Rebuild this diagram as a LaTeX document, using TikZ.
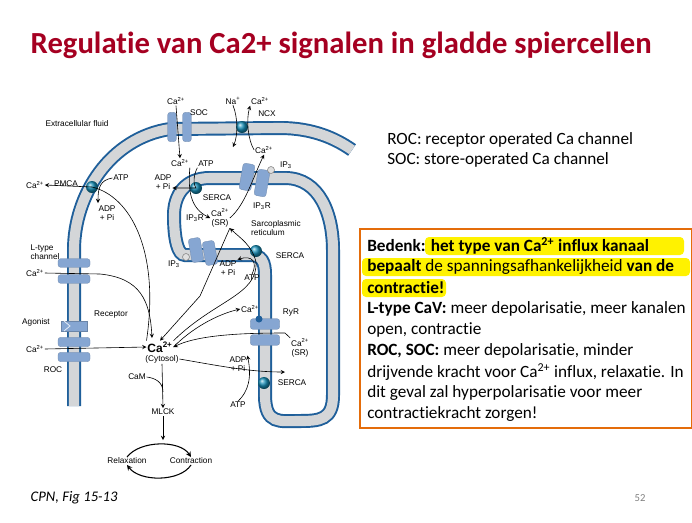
\documentclass[tikz,border=0pt]{standalone}
\usepackage{fontspec}
\setmainfont{Carlito}[Ligatures={NoCommon}]
\newfontfamily\labfont{Liberation Sans}
\usetikzlibrary{arrows, positioning, shadings}
\definecolor{titlered}{HTML}{A50021}
\definecolor{mblue}{HTML}{1F5F9A}
\definecolor{mgray}{HTML}{D4D6D8}
\definecolor{chan}{HTML}{86A6D2}
\definecolor{boxorange}{HTML}{E46C0A}
\newcommand{\caion}{Ca\textsuperscript{2+}}

\begin{document}
\begin{tikzpicture}[x=0.75pt, y=-0.75pt, >=stealth, font=\labfont\fontsize{6.2}{7}\selectfont]
        \tikzset{
            memb/.style={line width=10.5pt, draw=mblue},
            lumen/.style={line width=7.6pt, draw=mgray},
            pump/.style={circle, minimum size=9pt, inner sep=0pt, shading=ball, ball color=mblue!70!cyan},
            chan/.style={rectangle, rounded corners=2pt, fill=chan, draw=chan!80!black, line width=0.2pt, inner sep=0pt},
            lbl/.style={align=center, inner sep=0.5pt},
            flow/.style={->, line width=0.45pt},
            txt/.style={anchor=west, inner sep=0pt, font=\fontsize{12.9}{14}\selectfont}
        }
        \useasboundingbox (0,0) rectangle (692,522);

        % title
        \node[font=\bfseries\fontsize{23}{26}\selectfont, text=titlered, anchor=west] (title) at (26,45) {Regulatie van Ca2+ signalen in gladde spiercellen};

        % membranes
        \draw[memb] (74,406) -- (74,250) .. controls (74,195) and (110,138) .. (170,129) -- (280,128) .. controls (312,128) and (335,138) .. (352,150);
        \draw[lumen] (74,406) -- (74,250) .. controls (74,195) and (110,138) .. (170,129) -- (280,128) .. controls (312,128) and (335,138) .. (352,150);
        \draw[memb] (185,255) -- (250,255) .. controls (262,255) and (265,262) .. (265,275) -- (265,395) .. controls (265,425) and (280,421) .. (299,421) .. controls (320,421) and (333,420) .. (333,395) -- (333,250) .. controls (333,215) and (320,178) .. (285,178) -- (210,178) .. controls (185,178) and (174,195) .. (174,215) .. controls (174,240) and (178,255) .. (185,255) -- cycle;
        \draw[lumen] (185,255) -- (250,255) .. controls (262,255) and (265,262) .. (265,275) -- (265,395) .. controls (265,425) and (280,421) .. (299,421) .. controls (320,421) and (333,420) .. (333,395) -- (333,250) .. controls (333,215) and (320,178) .. (285,178) -- (210,178) .. controls (185,178) and (174,195) .. (174,215) .. controls (174,240) and (178,255) .. (185,255) -- cycle;

        % channels
        \node[chan, minimum width=6.5pt, minimum height=22pt] (soca) at (172,127) {};
        \node[chan, minimum width=6.5pt, minimum height=22pt] (socb) at (187,127) {};
        \node[chan, minimum width=24pt, minimum height=6.5pt] (ltypea) at (74,263) {};
        \node[chan, minimum width=24pt, minimum height=6.5pt] (ltypeb) at (74,279) {};
        \node[chan, minimum width=20pt, minimum height=8pt, rounded corners=0pt] (receptor) at (74,326) {};
        \draw[white!80!chan, line width=0.6pt] (64,321) -- (70,326) -- (64,331);
        \node[chan, minimum width=24pt, minimum height=7pt] (roca) at (74,342) {};
        \node[chan, minimum width=24pt, minimum height=7pt] (rocb) at (74,357) {};
        \node[chan, minimum width=9pt, minimum height=20pt, rotate=-10] (ipra) at (247,177) {};
        \node[chan, minimum width=9pt, minimum height=20pt, rotate=-10] (iprb) at (262,183) {};
        \node[chan, minimum width=9pt, minimum height=18pt, rotate=10] (iprc) at (196,250) {};
        \node[chan, minimum width=9pt, minimum height=18pt, rotate=10] (iprd) at (210,253) {};
        \node[chan, minimum width=22pt, minimum height=8pt] (ryra) at (265,324) {};
        \node[chan, minimum width=22pt, minimum height=8pt] (ryrb) at (265,340) {};
        \fill[mblue] (259,319) circle (3.5);
        \filldraw[fill=gray!25, draw=gray] (271,170) circle (3.5);
        \filldraw[fill=gray!25, draw=gray] (186,257) circle (3.5);

        % pumps
        \node[pump] (pmca) at (92,187) {};
        \node[pump] (ncx) at (242,127) {};
        \node[pump] (sercaA) at (196,188) {};
        \node[pump] (sercaB) at (256,251) {};
        \node[pump] (sercaC) at (264,383) {};

        % labels
        \node[lbl] (ecf) at (77,124) {Extracellular fluid};
        \node[lbl] (casoc) at (176,101) {\caion};
        \node[lbl] (soc) at (199,113) {SOC};
        \node[lbl] (na) at (233,101) {Na\textsuperscript{+}};
        \node[lbl] (cancx) at (260,101) {\caion};
        \node[lbl] (ncxl) at (267,114) {NCX};
        \node[lbl] (cain) at (264,150) {\caion};
        \node[lbl] (caer) at (180,163) {\caion};
        \node[lbl] (atpa) at (206,164) {ATP};
        \node[lbl] (adpa) at (163,182) {ADP\\+ Pi};
        \node[lbl] (sercal) at (217,198) {SERCA};
        \node[lbl] (ipa) at (286,165) {IP\textsubscript{3}};
        \node[lbl] (iprl) at (262,206) {IP\textsubscript{3}R};
        \node[lbl] (casr) at (220,218) {\caion\\(SR)};
        \node[lbl] (iprlb) at (195,218) {IP\textsubscript{3}R};
        \node[lbl, align=left] (srl) at (276,228) {Sarcoplasmic\\reticulum};
        \node[lbl] (ipb) at (174,264) {IP\textsubscript{3}};
        \node[lbl] (sercalb) at (290,256) {SERCA};
        \node[lbl] (adpb) at (228,268) {ADP\\+ Pi};
        \node[lbl] (atpb) at (252,278) {ATP};
        \node[lbl] (pmcal) at (66,184) {PMCA};
        \node[lbl] (capm) at (35,185) {\caion};
        \node[lbl] (atpc) at (121,178) {ATP};
        \node[lbl] (adpc) at (107,213) {ADP\\+ Pi};
        \node[lbl, align=left] (ltl) at (45,252) {L-type\\channel};
        \node[lbl] (calt) at (35,273) {\caion};
        \node[lbl] (agon) at (36,322) {Agonist};
        \node[lbl] (recl) at (111,315) {Receptor};
        \node[lbl] (caroc) at (35,349) {\caion};
        \node[lbl] (rocl) at (53,370) {ROC};
        \node[lbl, font=\labfont\bfseries\fontsize{9}{10}\selectfont] (cyto) at (160,347) {\caion};
        \node[lbl] (cytol) at (162,359) {(Cytosol)};
        \node[lbl] (cam) at (137,377) {CaM};
        \node[lbl] (mlck) at (163,412) {MLCK};
        \node[lbl] (relax) at (127,461) {Relaxation};
        \node[lbl] (contr) at (191,461) {Contraction};
        \node[lbl] (caryr) at (250,309) {\caion};
        \node[lbl] (ryrl) at (291,313) {RyR};
        \node[lbl] (casrb) at (300,348) {\caion\\(SR)};
        \node[lbl] (adpd) at (238,364) {ADP\\+ Pi};
        \node[lbl] (sercalc) at (292,383) {SERCA};
        \node[lbl] (atpd) at (238,405) {ATP};

        % fluxes
        \draw[flow] (cyto.north west) .. controls (160,250) and (130,196) .. (pmca.center) -- (capm.east);
        \draw[flow] (atpc.west) .. controls (100,180) and (98,188) .. (98,203);
        \draw[flow] (calt.east) -- (100,274) .. controls (140,278) and (150,300) .. (152,338);
        \draw[flow] (caroc.east) -- (cyto.west);
        \draw[flow] (casoc.south) -- (caer.north);
        \draw[flow] (caer.south east) .. controls (188,190) and (190,208) .. (casr.west);
        \draw[flow] (atpa.south west) .. controls (195,172) and (192,182) .. (sercaA.center) -- (adpa.east |- sercaA.center);
        \draw[flow] (na.south) .. controls (238,118) and (238,135) .. (233,147);
        \draw[flow] (cain.west) .. controls (248,140) and (246,120) .. (cancx.south west);
        \draw[flow] (casr.east) .. controls (245,205) and (252,180) .. (cain.south);
        \draw[flow] (casr.south east) -- (200,296) -- (cyto.north);
        \draw[flow] (atpb.north) .. controls (258,262) and (252,255) .. (adpb.north east);
        \draw[flow] (cyto.north east) .. controls (215,300) and (258,295) .. (256,262) .. controls (252,245) and (240,238) .. (casr.south east);
        \draw[flow] (cyto.east) .. controls (190,330) and (215,315) .. (caryr.west);
        \draw[flow] (casrb.north west) -- (285,333) .. controls (250,333) and (200,334) .. (cyto.east);
        \draw[flow] (cytol.east) .. controls (220,366) and (250,372) .. (285,372);
        \draw[flow] (atpd.north) .. controls (248,392) and (252,378) .. (adpd.north east);
        \draw[flow] (cytol.south) -- (mlck.north);
        \draw[line width=0.45pt] (cam.east) .. controls (155,378) and (163,382) .. (163,392);
        \draw[flow] (mlck.south) -- (163,440);
        \draw[flow, line width=0.8pt] (relax.north) .. controls (140,440) and (180,440) .. (contr.north);
        \draw[flow, line width=0.8pt] (contr.south) .. controls (180,482) and (140,482) .. (relax.south);

        % notes
        \node[txt] (rocnote) at (387,140) {ROC: receptor operated Ca channel};
        \node[txt] (socnote) at (387,160) {SOC: store-operated Ca channel};

        \draw[boxorange, line width=0.8pt] (360,229) rectangle (692,428);
        \fill[yellow, rounded corners=3pt] (425,237) rectangle (684,255);
        \fill[yellow, rounded corners=3pt] (362,258) rectangle (690,276);
        \fill[yellow, rounded corners=3pt] (362,279) rectangle (446,297);
        \node[txt] (la) at (367,246) {\textbf{Bedenk: het type van Ca\textsuperscript{2+} influx kanaal}};
        \node[txt] (lb) at (367,267) {\textbf{bepaalt} de spanningsafhankelijkheid \textbf{van de}};
        \node[txt] (lc) at (367,288) {\textbf{contractie!}};
        \node[txt] (ld) at (367,309) {\textbf{L-type CaV:} meer depolarisatie, meer kanalen};
        \node[txt] (le) at (367,330) {open, contractie};
        \node[txt] (lf) at (367,351) {\textbf{ROC, SOC:} meer depolarisatie, minder};
        \node[txt] (lg) at (367,372) {drijvende kracht voor Ca\textsuperscript{2+} influx, relaxatie. In};
        \node[txt] (lh) at (367,393) {dit geval zal hyperpolarisatie voor meer};
        \node[txt] (li) at (367,414) {contractiekracht zorgen!};

        % footer
        \node[anchor=west, font=\itshape\fontsize{11}{12}\selectfont] (src) at (26,498) {CPN, Fig 15-13};
        \node[font=\fontsize{8}{9}\selectfont, text=gray] (page) at (640,498) {52};
\end{tikzpicture}
\end{document}
